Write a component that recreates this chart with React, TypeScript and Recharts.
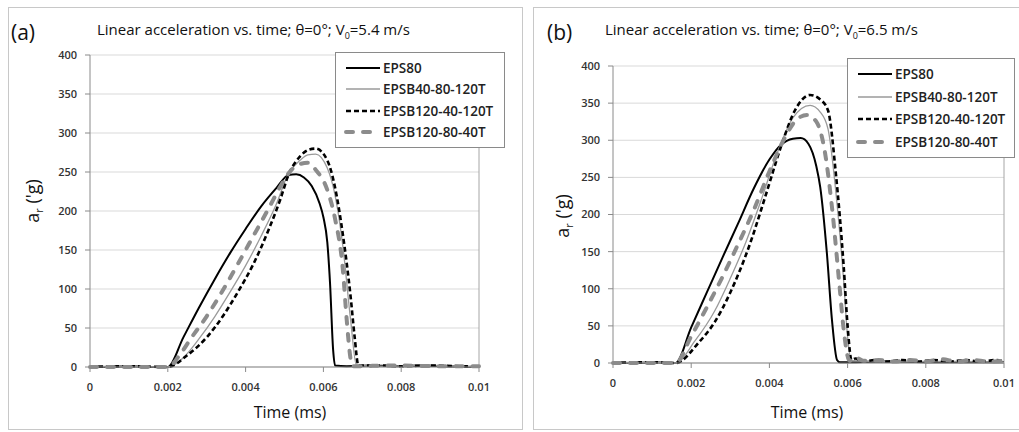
import React from 'react'
import { LineChart, Line, XAxis, YAxis, CartesianGrid, ReferenceLine } from 'recharts'

const seriesNames = ['EPS80', 'EPSB40-80-120T', 'EPSB120-40-120T', 'EPSB120-80-40T']
const timeTicks = [0, 0.002, 0.004, 0.006, 0.008, 0.01]
const accelTicks = [0, 50, 100, 150, 200, 250, 300, 350, 400]

// (a) V0 = 5.4 m/s
const tA_eps80 = [0, 0.0005, 0.001, 0.0015, 0.002, 0.0024, 0.0028, 0.0032, 0.0036, 0.004, 0.0044, 0.0048, 0.0051, 0.0053, 0.0055, 0.0057, 0.0059, 0.006, 0.0061, 0.00617, 0.00625, 0.0063, 0.0066, 0.0072, 0.0078, 0.0085, 0.0092, 0.01]
const aA_eps80 = [1, 0, 1, 0, 0, 38, 76, 112, 146, 177, 206, 230, 246, 247, 243, 232, 210, 192, 160, 108, 22, 2, 1, 2, 1, 2, 1, 0]
const tA_b40 = [0, 0.001, 0.002, 0.0024, 0.0028, 0.0032, 0.0036, 0.004, 0.0044, 0.0048, 0.0051, 0.0054, 0.0056, 0.0058, 0.0061, 0.0063, 0.0065, 0.0067, 0.00685, 0.0075, 0.0085, 0.01]
const aA_b40 = [0, 1, 0, 12, 36, 64, 96, 130, 168, 210, 248, 265, 272, 273, 255, 220, 155, 60, 2, 1, 2, 0]
const tA_b12040 = [0, 0.001, 0.002, 0.0025, 0.003, 0.0034, 0.0038, 0.0042, 0.0046, 0.0049, 0.0051, 0.0054, 0.0056, 0.0058, 0.0061, 0.0063, 0.0065, 0.0067, 0.0068, 0.0069, 0.0075, 0.008, 0.0088, 0.0095, 0.01]
const aA_b12040 = [0, 1, 0, 15, 38, 64, 96, 132, 177, 216, 246, 270, 278, 280, 265, 230, 170, 90, 40, 2, 2, 1, 2, 1, 1]
const tA_b12080 = [0, 0.001, 0.002, 0.0023, 0.0026, 0.003, 0.0034, 0.0038, 0.0042, 0.0046, 0.0049, 0.0051, 0.0053, 0.0056, 0.0058, 0.0061, 0.0063, 0.0065, 0.0066, 0.0067, 0.00675, 0.0078, 0.009, 0.01]
const aA_b12080 = [0, 0, 0, 15, 37, 65, 97, 132, 168, 204, 232, 248, 258, 262, 253, 227, 190, 125, 60, 10, 1, 2, 1, 1]

// (b) V0 = 6.5 m/s
const tB_eps80 = [0, 0.0005, 0.001, 0.0016, 0.002, 0.0024, 0.0028, 0.0032, 0.0036, 0.004, 0.0043, 0.0046, 0.0048, 0.005, 0.0052, 0.0053, 0.00547, 0.0056, 0.00573, 0.0058, 0.007, 0.0085, 0.01]
const aB_eps80 = [1, 0, 1, 0, 48, 95, 142, 188, 235, 274, 294, 302, 303, 295, 265, 237, 148, 58, 4, 1, 2, 1, 1]
const tB_b40 = [0, 0.001, 0.0016, 0.0021, 0.0026, 0.003, 0.0034, 0.0038, 0.0042, 0.0046, 0.00504, 0.0053, 0.0055, 0.0057, 0.0059, 0.006, 0.0061, 0.007, 0.008, 0.009, 0.01]
const aB_b40 = [0, 1, 0, 30, 70, 114, 163, 221, 283, 330, 347, 338, 315, 230, 110, 35, 3, 2, 2, 2, 1]
const tB_b12040 = [0, 0.001, 0.0016, 0.0022, 0.0026, 0.003, 0.0035, 0.0039, 0.0043, 0.00465, 0.00504, 0.0053, 0.0055, 0.0057, 0.0059, 0.006, 0.0061, 0.0062, 0.0064, 0.0067, 0.007, 0.0074, 0.0078, 0.0082, 0.0086, 0.009, 0.0094, 0.0098, 0.01]
const aB_b12040 = [0, 1, 0, 28, 55, 95, 160, 225, 292, 340, 361, 355, 340, 255, 130, 50, 4, 6, 2, 4, 2, 4, 2, 4, 2, 4, 2, 4, 2]
const tB_b12080 = [0, 0.001, 0.0016, 0.002, 0.0024, 0.0028, 0.0032, 0.0036, 0.004, 0.0044, 0.0047, 0.00496, 0.0052, 0.0054, 0.0056, 0.0058, 0.0059, 0.00605, 0.0062, 0.0064, 0.0068, 0.0072, 0.0076, 0.008, 0.0084, 0.0088, 0.0092, 0.0096, 0.01]
const aB_b12080 = [0, 0, 0, 36, 75, 116, 160, 206, 258, 304, 328, 334, 325, 290, 210, 100, 45, 3, 8, 3, 4, 2, 4, 2, 5, 2, 4, 2, 3]

const pts = (t: number[], a: number[]) => t.map((x, i) => ({ t: x, a: a[i] }))

const seriesStyle = [
  { stroke: '#000', width: 2, dash: undefined as string | undefined, cap: 'butt' },
  { stroke: '#9a9a9a', width: 1.3, dash: undefined as string | undefined, cap: 'butt' },
  { stroke: '#000', width: 2.6, dash: '5 3', cap: 'butt' },
  { stroke: '#8c8c8c', width: 4, dash: '7 10', cap: 'round' },
]

const font = '"Open Sans", sans-serif'

function LegendBox({ left, top, width, height }: { left: number; top: number; width: number; height: number }) {
  return (
    <div style={{ position: 'absolute', left, top, width, height, border: '1px solid #8a8a8a', background: '#fff', boxSizing: 'border-box', paddingTop: 4 }}>
      {seriesNames.map((name, i) => {
        const s = seriesStyle[i]
        return (
          <div key={name} style={{ display: 'flex', alignItems: 'center', height: (height - 10) / 4, paddingLeft: 7 }}>
            <svg width={39} height={10}>
              <line x1={3} y1={5} x2={37} y2={5} stroke={s.stroke} strokeWidth={s.width} strokeDasharray={s.dash} strokeLinecap={s.cap as any} />
            </svg>
            <span style={{ fontFamily: font, fontSize: 13.5, fontWeight: 600, color: '#222', marginLeft: 1 }}>{name}</span>
          </div>
        )
      })}
    </div>
  )
}

interface PanelProps {
  left: number
  width: number
  margin: { top: number; right: number; bottom: number; left: number }
  series: { t: number; a: number }[][]
}

function Panel({ left, width, margin, series }: PanelProps) {
  return (
    <div style={{ position: 'absolute', left, top: 7 }}>
      <LineChart width={width} height={423} margin={margin}>
        <CartesianGrid horizontal vertical={false} stroke="#d9d9d9" />
        <XAxis
          type="number"
          dataKey="t"
          domain={[0, 0.01]}
          ticks={timeTicks}
          tickFormatter={(v) => String(v)}
          height={30}
          tickSize={5}
          tickMargin={11}
          axisLine={{ stroke: '#8a8a8a' }}
          tickLine={{ stroke: '#8a8a8a' }}
          tick={{ fontFamily: font, fontSize: 11, fontWeight: 600, fill: '#333' }}
        />
        <YAxis
          type="number"
          domain={[0, 400]}
          ticks={accelTicks}
          width={50}
          tickSize={5}
          tickMargin={8}
          axisLine={{ stroke: '#8a8a8a' }}
          tickLine={{ stroke: '#8a8a8a' }}
          tick={{ fontFamily: font, fontSize: 11, fontWeight: 600, fill: '#333' }}
        />
        <ReferenceLine x={0.01} stroke="#a6a6a6" />
        {series.map((d, i) => {
          const s = seriesStyle[i]
          return (
            <Line
              key={seriesNames[i]}
              data={d}
              dataKey="a"
              name={seriesNames[i]}
              type="monotone"
              stroke={s.stroke}
              strokeWidth={s.width}
              strokeDasharray={s.dash}
              strokeLinecap={s.cap as any}
              dot={false}
              isAnimationActive={false}
            />
          )
        })}
      </LineChart>
    </div>
  )
}

const textBase: React.CSSProperties = { position: 'absolute', fontFamily: font, color: '#111', whiteSpace: 'nowrap' }

export default function App() {
  return (
    <div style={{ position: 'absolute', left: 0, top: 0, width: 1019, height: 432, background: '#fff', overflow: 'hidden' }}>
      {/* panel frames */}
      <div style={{ position: 'absolute', left: 8, top: 7, width: 515, height: 423, border: '1px solid #c8c8c8', boxSizing: 'border-box' }} />
      <div style={{ position: 'absolute', left: 533, top: 7, width: 495, height: 423, border: '1px solid #c8c8c8', boxSizing: 'border-box' }} />

      <Panel
        left={8}
        width={515}
        margin={{ top: 48, right: 44, bottom: 33, left: 32 }}
        series={[pts(tA_eps80, aA_eps80), pts(tA_b40, aA_b40), pts(tA_b12040, aA_b12040), pts(tA_b12080, aA_b12080)]}
      />
      <Panel
        left={533}
        width={485}
        margin={{ top: 59, right: 14, bottom: 37, left: 30 }}
        series={[pts(tB_eps80, aB_eps80), pts(tB_b40, aB_b40), pts(tB_b12040, aB_b12040), pts(tB_b12080, aB_b12080)]}
      />

      <div style={{ ...textBase, left: 11, top: 18, fontSize: 21 }}>(a)</div>
      <div style={{ ...textBase, left: 97, top: 19, fontSize: 15 }}>
        Linear acceleration vs. time; θ=0°; V<sub style={{ fontSize: 9 }}>0</sub>=5.4 m/s
      </div>
      <div style={{ ...textBase, left: 547, top: 18, fontSize: 21 }}>(b)</div>
      <div style={{ ...textBase, left: 605, top: 19, fontSize: 15 }}>
        Linear acceleration vs. time; θ=0°; V<sub style={{ fontSize: 9 }}>0</sub>=6.5 m/s
      </div>

      <div style={{ ...textBase, left: 33, top: 201, fontSize: 18, transform: 'translate(-50%, -50%) rotate(-90deg)' }}>
        a<sub style={{ fontSize: 11 }}>r</sub> ('g)
      </div>
      <div style={{ ...textBase, left: 563, top: 216, fontSize: 18, transform: 'translate(-50%, -50%) rotate(-90deg)' }}>
        a<sub style={{ fontSize: 11 }}>r</sub> ('g)
      </div>

      <div style={{ ...textBase, left: 290, top: 412, fontSize: 16, transform: 'translate(-50%, -50%)' }}>Time (ms)</div>
      <div style={{ ...textBase, left: 807, top: 412, fontSize: 16, transform: 'translate(-50%, -50%)' }}>Time (ms)</div>

      <LegendBox left={335} top={52} width={170} height={96} />
      <LegendBox left={847} top={58} width={168} height={100} />
    </div>
  )
}
